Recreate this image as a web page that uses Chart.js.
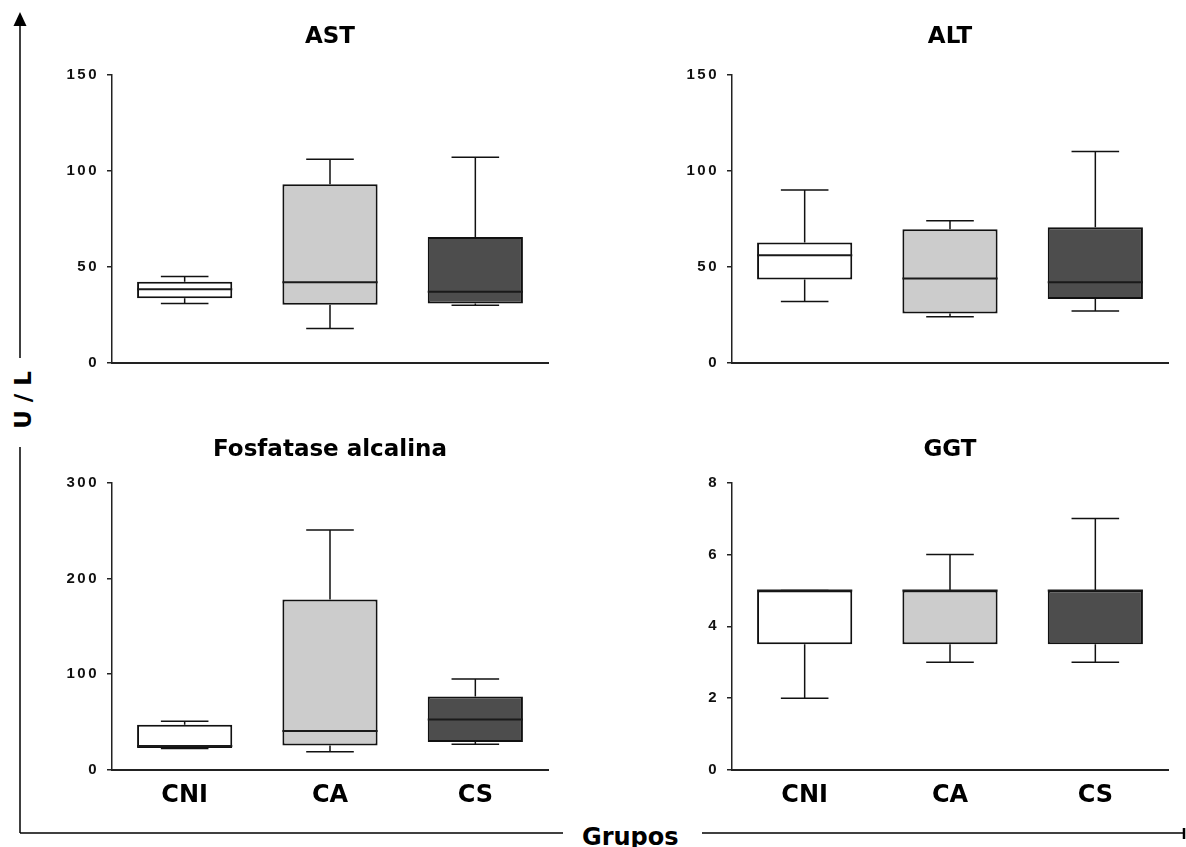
<!DOCTYPE html>
<html lang="pt">
<head>
<meta charset="utf-8">
<title>Enzimas hepáticas por grupo</title>
<script src="https://cdn.jsdelivr.net/npm/chart.js@4.4.0/dist/chart.umd.min.js"></script>
<style>
  html, body { margin: 0; padding: 0; background: #fff; }
  #wrap { position: relative; width: 1186px; height: 847px; overflow: hidden; }
  #eixos, canvas { position: absolute; }
</style>
</head>
<body>
<div id="wrap">
  <svg id="eixos" width="1186" height="847" xmlns="http://www.w3.org/2000/svg">
    <g stroke="#000" stroke-width="1.5" fill="none">
      <line x1="20" y1="24" x2="20" y2="358"/>
      <line x1="20" y1="447" x2="20" y2="833"/>
      <line x1="20" y1="833" x2="563" y2="833"/>
      <line x1="702" y1="833" x2="1184" y2="833"/>
      <line x1="1184" y1="828" x2="1184" y2="839" stroke-width="2.5"/>
    </g>
    <polygon points="20,12 13.5,26 26.5,26" fill="#000"/>
    <text transform="translate(31 396) rotate(-90)" text-anchor="middle" font-family="DejaVu Sans" font-weight="bold" font-size="23" letter-spacing="8">U/L</text>
    <text x="582" y="845" font-family="DejaVu Sans" font-weight="bold" font-size="24">Grupos</text>
  </svg>
  <canvas id="ast" width="593" height="400" style="left:0;top:0"></canvas>
  <canvas id="alt" width="593" height="400" style="left:593px;top:0"></canvas>
  <canvas id="fa" width="593" height="447" style="left:0;top:400px"></canvas>
  <canvas id="ggt" width="593" height="447" style="left:593px;top:400px"></canvas>
</div>
<script>
const grupos = ['CNI', 'CA', 'CS'];
const cores = ['#ffffff', '#cccccc', '#4d4d4d'];

// AST (U/L)
const astMin = [31, 18, 30];
const astQ1 = [33.7, 30.3, 31];
const astMediana = [38.4, 42, 37];
const astQ3 = [42.2, 93, 65.5];
const astMax = [45, 106, 107];
const astTicks = [0, 50, 100, 150];

// ALT (U/L)
const altMin = [32, 24, 27];
const altQ1 = [43.4, 25.8, 33.3];
const altMediana = [56, 44, 42];
const altQ3 = [62.7, 69.5, 70.6];
const altMax = [90, 74, 110];
const altTicks = [0, 50, 100, 150];

// Fosfatase alcalina (U/L)
const faMin = [22.5, 19, 27];
const faQ1 = [23, 25.5, 29.3];
const faMediana = [25, 40.8, 52.8];
const faQ3 = [47.3, 178, 76.7];
const faMax = [51, 250.5, 95];
const faTicks = [0, 100, 200, 300];

// GGT (U/L)
const ggtMin = [2, 3, 3];
const ggtQ1 = [3.5, 3.5, 3.5];
const ggtMediana = [5, 5, 5];
const ggtQ3 = [5, 5, 5];
const ggtMax = [5, 6, 7];
const ggtTicks = [0, 2, 4, 6, 8];

// bigodes (antes das caixas) e mediana (depois)
const bigodes = {
  id: 'bigodes',
  beforeDatasetsDraw(chart) {
    const ctx = chart.ctx;
    const y = chart.scales.y;
    const ds = chart.data.datasets[0];
    ctx.save();
    ctx.strokeStyle = '#111';
    ctx.lineWidth = 1.5;
    chart.getDatasetMeta(0).data.forEach(function (bar, i) {
      const meia = bar.width / 4;
      const yMax = y.getPixelForValue(ds.maximos[i]);
      const yQ3 = y.getPixelForValue(ds.data[i][1]);
      const yQ1 = y.getPixelForValue(ds.data[i][0]);
      const yMin = y.getPixelForValue(ds.minimos[i]);
      ctx.beginPath();
      ctx.moveTo(bar.x, yQ3); ctx.lineTo(bar.x, yMax);
      ctx.moveTo(bar.x - meia, yMax); ctx.lineTo(bar.x + meia, yMax);
      ctx.moveTo(bar.x, yQ1); ctx.lineTo(bar.x, yMin);
      ctx.moveTo(bar.x - meia, yMin); ctx.lineTo(bar.x + meia, yMin);
      ctx.stroke();
    });
    ctx.restore();
  },
  afterDatasetsDraw(chart) {
    const ctx = chart.ctx;
    const y = chart.scales.y;
    const ds = chart.data.datasets[0];
    ctx.save();
    ctx.strokeStyle = '#1a1a1a';
    ctx.lineWidth = 2;
    chart.getDatasetMeta(0).data.forEach(function (bar, i) {
      const ym = y.getPixelForValue(ds.medianas[i]);
      ctx.beginPath();
      ctx.moveTo(bar.x - bar.width / 2, ym);
      ctx.lineTo(bar.x + bar.width / 2, ym);
      ctx.stroke();
    });
    ctx.restore();
  }
};

// números do eixo y com letras espaçadas
const letrasEspacadas = {
  id: 'letrasEspacadas',
  afterUpdate(chart) {
    const y = chart.scales.y;
    if (y._espacado) return;
    const desenha = y.drawLabels;
    y.drawLabels = function (area) {
      this.ctx.save();
      this.ctx.letterSpacing = '2.5px';
      desenha.call(this, area);
      this.ctx.restore();
    };
    y._espacado = true;
  }
};

function criarPainel(id, cfg) {
  return new Chart(document.getElementById(id), {
    type: 'bar',
    data: {
      labels: grupos,
      datasets: [{
        data: cfg.q1.map((v, i) => [v, cfg.q3[i]]),
        minimos: cfg.min,
        maximos: cfg.max,
        medianas: cfg.mediana,
        backgroundColor: cores,
        borderColor: '#111',
        borderWidth: 2,
        borderSkipped: false,
        categoryPercentage: 1,
        barPercentage: 0.655
      }]
    },
    options: {
      responsive: false,
      animation: false,
      events: [],
      layout: { padding: cfg.padding },
      plugins: {
        legend: { display: false },
        tooltip: { enabled: false },
        title: {
          display: true,
          text: cfg.titulo,
          fullSize: false,
          color: '#000',
          font: { family: 'DejaVu Sans', size: 23, weight: 'bold' },
          padding: cfg.tituloPad
        }
      },
      scales: {
        x: {
          grid: { display: false, drawTicks: false },
          border: { color: '#222', width: 2 },
          ticks: {
            display: cfg.rotulos,
            color: '#000',
            padding: 11,
            font: { family: 'DejaVu Sans', size: 24, weight: 'bold' }
          },
          afterFit: s => { s.height = cfg.alturaX; }
        },
        y: {
          min: cfg.ticks[0],
          max: cfg.ticks[cfg.ticks.length - 1],
          ticks: {
            stepSize: cfg.ticks[1] - cfg.ticks[0],
            color: '#111',
            padding: 8,
            font: { family: 'Liberation Sans', size: 15, weight: 'bold' }
          },
          grid: { drawOnChartArea: false, tickLength: 5, color: '#222', lineWidth: 1.5 },
          border: { color: '#222', width: 1.5 },
          afterFit: s => { s.width = cfg.larguraY; }
        }
      }
    },
    plugins: [bigodes, letrasEspacadas]
  });
}

const topo = { tituloPad: { top: 23, bottom: 24 }, alturaX: 0, rotulos: false };
const base = { tituloPad: { top: 36, bottom: 19 }, alturaX: 50, rotulos: true };

criarPainel('ast', Object.assign({}, topo, {
  titulo: 'AST', min: astMin, q1: astQ1, mediana: astMediana, q3: astQ3, max: astMax, ticks: astTicks,
  larguraY: 112, padding: { left: 0, right: 45, top: 0, bottom: 37 }
}));
criarPainel('alt', Object.assign({}, topo, {
  titulo: 'ALT', min: altMin, q1: altQ1, mediana: altMediana, q3: altQ3, max: altMax, ticks: altTicks,
  larguraY: 139, padding: { left: 0, right: 18, top: 0, bottom: 37 }
}));
criarPainel('fa', Object.assign({}, base, {
  titulo: 'Fosfatase alcalina', min: faMin, q1: faQ1, mediana: faMediana, q3: faQ3, max: faMax, ticks: faTicks,
  larguraY: 112, padding: { left: 0, right: 45, top: 0, bottom: 27 }
}));
criarPainel('ggt', Object.assign({}, base, {
  titulo: 'GGT', min: ggtMin, q1: ggtQ1, mediana: ggtMediana, q3: ggtQ3, max: ggtMax, ticks: ggtTicks,
  larguraY: 139, padding: { left: 0, right: 18, top: 0, bottom: 27 }
}));
</script>
</body>
</html>
